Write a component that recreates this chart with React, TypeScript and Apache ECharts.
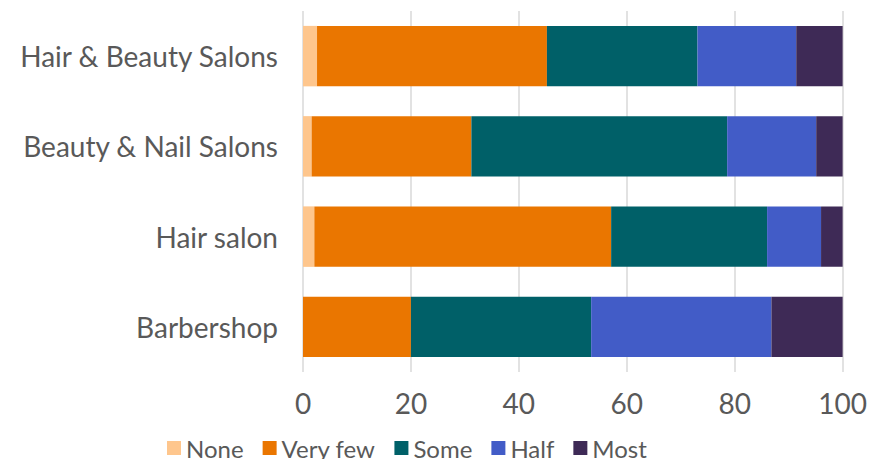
import React, { useEffect, useRef } from "react";
import * as echarts from "echarts";

const categories = ["Hair & Beauty Salons", "Beauty & Nail Salons", "Hair salon", "Barbershop"];
const seriesNames = ["None", "Very few", "Some", "Half", "Most"];
const none = [2.6, 1.6, 2.1, 0];
const veryFew = [42.6, 29.6, 55.0, 20.0];
const some = [27.9, 47.4, 28.9, 33.4];
const half = [18.3, 16.5, 10.0, 33.4];
const most = [8.6, 4.9, 4.0, 13.2];
const xTicks = { min: 0, max: 100, interval: 20 };

const colors = ["#FEC68D", "#EA7600", "#006068", "#425CC7", "#3E2A56"];
const FONT = "Lato, 'Noto Sans', sans-serif";

export default function App() {
  const ref = useRef<HTMLDivElement>(null);
  useEffect(() => {
    if (!ref.current) return;
    const chart = echarts.init(ref.current, undefined, { renderer: "svg" });
    const values = [none, veryFew, some, half, most];
    chart.setOption({
      animation: false,
      textStyle: { fontFamily: FONT },
      grid: { left: 303, right: 24, top: 11, bottom: 87, containLabel: false },
      legend: {
        top: 431,
        left: 162,
        itemWidth: 14,
        itemHeight: 14,
        itemGap: 19,
        icon: "rect",
        textStyle: { fontSize: 24, color: "#595959", fontFamily: FONT },
        data: seriesNames,
      },
      xAxis: {
        type: "value",
        min: xTicks.min,
        max: xTicks.max,
        interval: xTicks.interval,
        axisLine: { show: false },
        axisTick: { show: false },
        splitLine: { lineStyle: { color: "#D9D9D9", width: 1.5 } },
        axisLabel: { fontSize: 28, color: "#595959", margin: 17 },
      },
      yAxis: {
        type: "category",
        inverse: true,
        data: categories,
        axisLine: { show: false },
        axisTick: { show: false },
        axisLabel: { fontSize: 28, color: "#595959", margin: 25 },
      },
      series: seriesNames.map((name, i) => ({
        name,
        type: "bar",
        stack: "total",
        barCategoryGap: "33%",
        data: values[i],
        itemStyle: { color: colors[i] },
      })),
    });
    return () => chart.dispose();
  }, []);
  return (
    <div
      ref={ref}
      style={{ position: "absolute", left: 0, top: 0, width: 870, height: 459 }}
    />
  );
}
